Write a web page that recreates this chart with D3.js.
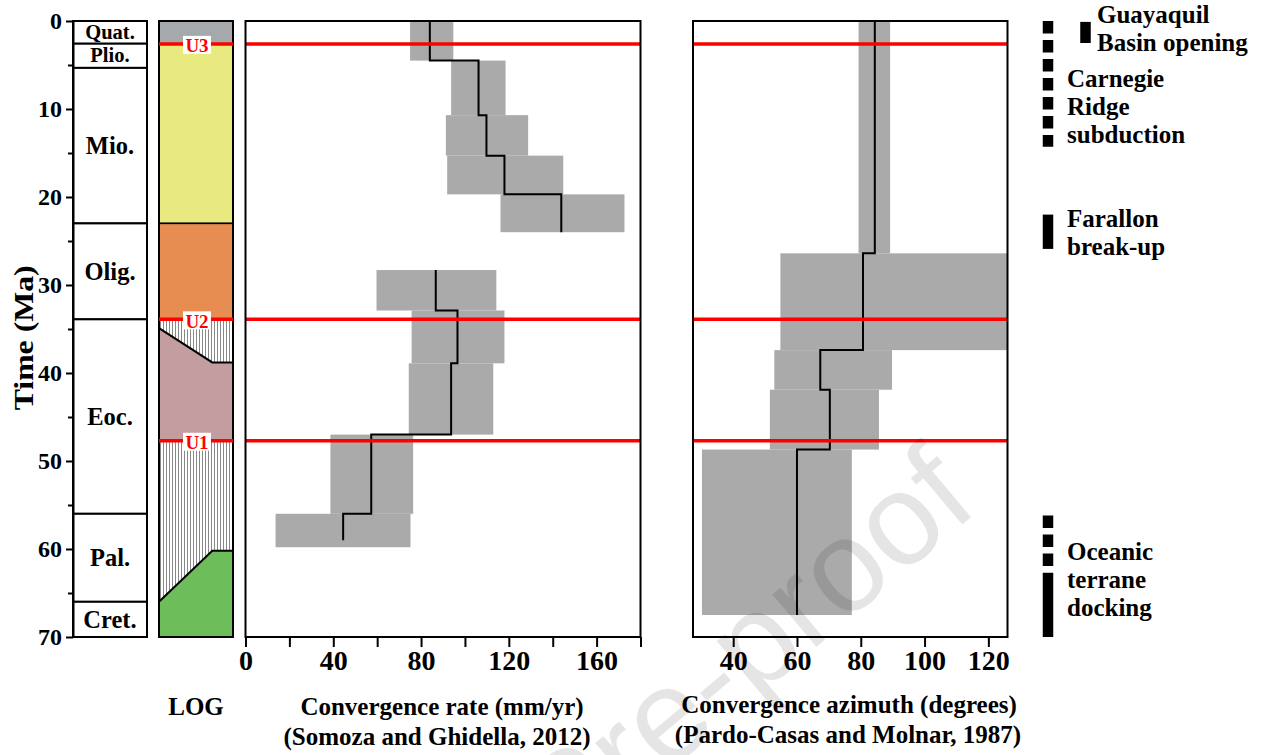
<!DOCTYPE html>
<html>
<head>
<meta charset="utf-8">
<script src="https://cdn.jsdelivr.net/npm/d3@7"></script>
<style>
  body { margin: 0; background: #fff; }
  svg { display: block; font-family: "Liberation Serif", "Times New Roman", serif; font-weight: bold; }
</style>
</head>
<body>
<svg id="chart" width="1264" height="755"></svg>
<script>
// time scale (Ma)
const epochNames = ["Quat.", "Plio.", "Mio.", "Olig.", "Eoc.", "Pal.", "Cret."];
const epochTops  = [0, 2.58, 5.33, 23, 33.9, 56, 66];
const epochBases = [2.58, 5.33, 23, 33.9, 56, 66, 70];
const ageTickValues = [0, 5, 10, 15, 20, 25, 30, 35, 40, 45, 50, 55, 60, 65, 70];

// unconformities
const unconfNames = ["U3", "U2", "U1"];
const unconfAges  = [2.6, 33.9, 47.7];

// LOG column: plain bands, then hatched sediment with two polygons
const logBandTops  = [0, 2.6, 23];
const logBandBases = [2.6, 23, 33.9];
const logBandFills = ["#a6a9ab", "#e8ea80", "#e88d51"];
const logHatchTop = 33.9;
// [relative position across column, age]
const logPinkOutline  = [[0, 34.9], [0.72, 38.8], [1, 38.8], [1, 47.7], [0, 47.7]];
const logGreenOutline = [[0, 66], [0.72, 60.2], [1, 60.2], [1, 70], [0, 70]];

// convergence rate (Somoza and Ghidella, 2012)
const rateTops  = [0, 4.5, 10.7, 15.3, 19.7, 28.3, 32.9, 38.9, 47.0, 56.0];
const rateBases = [4.5, 10.7, 15.3, 19.7, 24.0, 32.9, 38.9, 47.0, 56.0, 59.8];
const rateMin   = [75, 93.7, 91.3, 91.9, 116.2, 59.7, 75.7, 74.4, 38.7, 13.7];
const rateMax   = [94.7, 118.5, 128.8, 144.8, 172.7, 114.3, 118, 112.9, 76.4, 75.2];
const rateMean  = [84, 106.2, 109.8, 118, 143.9, 86.7, 96.6, 93.7, 57.3, 44.5];
const rateGroup = [0, 0, 0, 0, 0, 1, 1, 1, 1, 1];
const rateLineEnd = [24.0, 59.0];
const rateTickValues = [0, 20, 40, 60, 80, 100, 120, 140, 160, 180];
const rateTickLabels = ["0", "", "40", "", "80", "", "120", "", "160", ""];

// convergence azimuth (Pardo-Casas and Molnar, 1987)
const azTops  = [0, 26.4, 37.4, 41.9, 48.7];
const azBases = [26.4, 37.4, 41.9, 48.7, 67.5];
const azMin   = [79.3, 54.8, 52.9, 51.5, 30.2];
const azMax   = [89.2, 126, 89.8, 85.7, 77.2];
const azMean  = [84.4, 80.7, 67.3, 70.3, 60.0];
const azTickValues = [40, 60, 80, 100, 120];

// tectonic events
const eventLines = [["Guayaquil", "Basin opening"], ["Carnegie", "Ridge", "subduction"], ["Farallon", "break-up"], ["Oceanic", "terrane", "docking"]];
const eventLabelAge = [0.26, 7.53, 23.4, 61.25];
const barEvent  = [0, 1, 2, 3, 3];
const barTop    = [0.1, 0, 22.0, 56.2, 62.7];
const barBase   = [2.5, 14.3, 25.9, 62.0, 70];
const barDashed = [false, true, false, true, false];

const svg = d3.select("#chart");
const yAge = d3.scaleLinear().domain([0, 70]).range([21, 637]);

// ---- epoch column
const epochG = svg.append("g");
epochG.selectAll("rect").data(epochNames).join("rect")
  .attr("x", 73).attr("width", 74)
  .attr("y", (d, i) => yAge(epochTops[i]))
  .attr("height", (d, i) => yAge(epochBases[i]) - yAge(epochTops[i]))
  .attr("fill", "#fff").attr("stroke", "#000").attr("stroke-width", 2);
epochG.selectAll("text").data(epochNames).join("text")
  .attr("x", 110)
  .attr("y", (d, i) => (yAge(epochTops[i]) + yAge(epochBases[i])) / 2 + (i < 2 ? 6.5 : 8.5))
  .attr("text-anchor", "middle")
  .attr("font-size", (d, i) => i < 2 ? 20.5 : 24.5)
  .text(d => d);

const yAxis = svg.append("g").attr("transform", "translate(73,0)")
  .call(d3.axisLeft(yAge).tickValues(ageTickValues).tickSize(6).tickSizeOuter(0).tickPadding(5)
    .tickFormat(d => d % 10 === 0 ? d : ""));
yAxis.attr("font-family", null).attr("font-size", 24);
yAxis.selectAll("line").attr("stroke-width", 2).attr("x2", d => d % 10 === 0 ? -7 : -5);
yAxis.select(".domain").attr("stroke-width", 2);
yAxis.selectAll("text").attr("fill", "#000");

svg.append("text")
  .attr("transform", `translate(33,${yAge(36)}) rotate(-90)`)
  .attr("text-anchor", "middle")
  .attr("font-size", 27)
  .attr("textLength", 145).attr("lengthAdjust", "spacingAndGlyphs")
  .text("Time (Ma)");

// ---- LOG column
const xLog = d3.scaleLinear().domain([0, 1]).range([159, 233]);
const defs = svg.append("defs");
const hatch = defs.append("pattern").attr("id", "hatch")
  .attr("patternUnits", "userSpaceOnUse").attr("width", 3).attr("height", 10);
hatch.append("rect").attr("width", 3).attr("height", 10).attr("fill", "#fff");
hatch.append("line").attr("x1", 1.5).attr("x2", 1.5).attr("y1", 0).attr("y2", 10)
  .attr("stroke", "#6a6a6a").attr("stroke-width", 0.8);

const logG = svg.append("g");
logG.append("rect")
  .attr("x", xLog(0)).attr("width", xLog(1) - xLog(0))
  .attr("y", yAge(logHatchTop)).attr("height", yAge(70) - yAge(logHatchTop))
  .attr("fill", "url(#hatch)");
logG.selectAll("rect.band").data(logBandFills).join("rect").attr("class", "band")
  .attr("x", xLog(0)).attr("width", xLog(1) - xLog(0))
  .attr("y", (d, i) => yAge(logBandTops[i]))
  .attr("height", (d, i) => yAge(logBandBases[i]) - yAge(logBandTops[i]))
  .attr("fill", d => d).attr("stroke", "#000").attr("stroke-width", 1.5);
const logLine = d3.line().x(d => xLog(d[0])).y(d => yAge(d[1]));
logG.append("path").attr("d", logLine(logPinkOutline) + "Z")
  .attr("fill", "#c49da0").attr("stroke", "#000").attr("stroke-width", 2);
logG.append("path").attr("d", logLine(logGreenOutline) + "Z")
  .attr("fill", "#6dbe5a").attr("stroke", "#000").attr("stroke-width", 2);
logG.append("rect")
  .attr("x", xLog(0)).attr("width", xLog(1) - xLog(0))
  .attr("y", yAge(0)).attr("height", yAge(70) - yAge(0))
  .attr("fill", "none").attr("stroke", "#000").attr("stroke-width", 2);

// ---- convergence rate panel
const xRate = d3.scaleLinear().domain([0, 180]).range([245.5, 640.5]);
const rateG = svg.append("g");
rateG.selectAll("rect").data(rateMean).join("rect")
  .attr("x", (d, i) => xRate(rateMin[i]))
  .attr("width", (d, i) => xRate(rateMax[i]) - xRate(rateMin[i]))
  .attr("y", (d, i) => yAge(rateTops[i]))
  .attr("height", (d, i) => yAge(rateBases[i]) - yAge(rateTops[i]))
  .attr("fill", "#aaaaaa");

function stepPoints(tops, bases, means, idx, endAge) {
  const pts = [];
  idx.forEach((i, k) => {
    pts.push([means[i], tops[i]]);
    pts.push([means[i], k === idx.length - 1 ? endAge : bases[i]]);
  });
  return pts;
}
const rateLine = d3.line().x(d => xRate(d[0])).y(d => yAge(d[1]));
rateLineEnd.forEach((end, g) => {
  const idx = rateMean.map((d, i) => i).filter(i => rateGroup[i] === g);
  rateG.append("path").attr("d", rateLine(stepPoints(rateTops, rateBases, rateMean, idx, end)))
    .attr("fill", "none").attr("stroke", "#000").attr("stroke-width", 2);
});

// ---- convergence azimuth panel
const xAz = d3.scaleLinear().domain([27.4, 126]).range([693, 1007.5]);
const azG = svg.append("g");
azG.selectAll("rect").data(azMean).join("rect")
  .attr("x", (d, i) => xAz(azMin[i]))
  .attr("width", (d, i) => xAz(azMax[i]) - xAz(azMin[i]))
  .attr("y", (d, i) => yAge(azTops[i]))
  .attr("height", (d, i) => yAge(azBases[i]) - yAge(azTops[i]))
  .attr("fill", "#aaaaaa");
const azLine = d3.line().x(d => xAz(d[0])).y(d => yAge(d[1]));
azG.append("path")
  .attr("d", azLine(stepPoints(azTops, azBases, azMean, azMean.map((d, i) => i), azBases[azBases.length - 1])))
  .attr("fill", "none").attr("stroke", "#000").attr("stroke-width", 2);

// ---- unconformity lines across LOG and both panels
const redSpans = [[xLog(0), xLog(1)], [xRate(0), xRate(180)], [xAz(27.4), xAz(126)]];
const redG = svg.append("g");
redSpans.forEach(span => {
  redG.selectAll(null).data(unconfAges).join("line")
    .attr("x1", span[0]).attr("x2", span[1])
    .attr("y1", d => yAge(d)).attr("y2", d => yAge(d))
    .attr("stroke", "#ff0000").attr("stroke-width", 3.5);
});
redG.selectAll("rect.lab").data(unconfNames).join("rect").attr("class", "lab")
  .attr("x", 183).attr("width", 28)
  .attr("y", (d, i) => yAge(unconfAges[i]) - 8).attr("height", 18)
  .attr("fill", "#fff");
redG.selectAll("text").data(unconfNames).join("text")
  .attr("x", 197).attr("y", (d, i) => yAge(unconfAges[i]) + 8.5)
  .attr("text-anchor", "middle").attr("font-size", 19).attr("fill", "#ff0000")
  .text(d => d);

// ---- frames and axes
[[xRate, 0, 180], [xAz, 27.4, 126]].forEach(([sc, a, b]) => {
  svg.append("rect")
    .attr("x", sc(a)).attr("width", sc(b) - sc(a))
    .attr("y", yAge(0)).attr("height", yAge(70) - yAge(0))
    .attr("fill", "none").attr("stroke", "#000").attr("stroke-width", 2);
});

function styleX(g) {
  g.attr("font-family", null).attr("font-size", 28);
  g.select(".domain").remove();
  g.selectAll("line").attr("stroke-width", 2);
  g.selectAll("text").attr("fill", "#000");
}
svg.append("g").attr("transform", `translate(0,${yAge(70)})`)
  .call(d3.axisBottom(xRate).tickValues(rateTickValues).tickSize(10).tickPadding(3)
    .tickFormat((d, i) => rateTickLabels[i]))
  .call(styleX);
svg.append("g").attr("transform", `translate(0,${yAge(70)})`)
  .call(d3.axisBottom(xAz).tickValues(azTickValues).tickSize(10).tickPadding(3))
  .call(styleX);

// axis titles
const titles = [
  ["LOG", 196, 715], ["Convergence rate (mm/yr)", 442, 715], ["(Somoza and Ghidella, 2012)", 437, 745],
  ["Convergence azimuth (degrees)", 849, 713], ["(Pardo-Casas and Molnar, 1987)", 848, 743]
];
svg.append("g").selectAll("text").data(titles).join("text")
  .attr("x", d => d[1]).attr("y", d => d[2])
  .attr("text-anchor", "middle").attr("font-size", 25)
  .text(d => d[0]);

// ---- tectonic events
const evG = svg.append("g");
evG.selectAll("line").data(barTop).join("line")
  .attr("x1", (d, i) => barEvent[i] === 0 ? 1085.5 : 1048)
  .attr("x2", (d, i) => barEvent[i] === 0 ? 1085.5 : 1048)
  .attr("y1", d => yAge(d))
  .attr("y2", (d, i) => yAge(barBase[i]))
  .attr("stroke", "#000").attr("stroke-width", 10.5)
  .attr("stroke-dasharray", (d, i) => barDashed[i] ? "12.5,6.5" : null);
eventLines.forEach((lines, e) => {
  evG.append("g").selectAll("text").data(lines).join("text")
    .attr("x", e === 0 ? 1097 : 1067)
    .attr("y", (d, k) => yAge(eventLabelAge[e]) + k * 28)
    .attr("font-size", 25)
    .text(d => d);
});

// ---- watermark
svg.append("text")
  .attr("transform", "translate(566,857) rotate(-40)")
  .attr("font-family", "Liberation Sans, Arial, sans-serif")
  .attr("font-weight", "normal")
  .attr("font-size", 130)
  .attr("fill", "#000").attr("fill-opacity", 0.1)
  .text("Pre-proof");
</script>
</body>
</html>
